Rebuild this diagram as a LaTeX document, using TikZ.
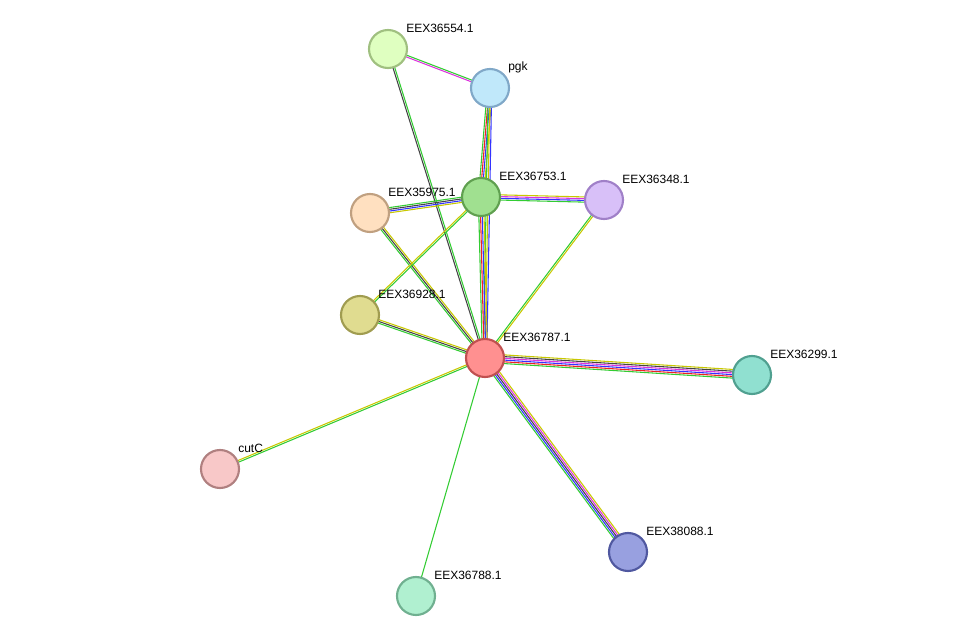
\documentclass[tikz,border=0pt]{standalone}
\usepackage{fontspec}
\setmainfont{Liberation Sans}
\usetikzlibrary{calc}
\definecolor{eg}{HTML}{33CC33}
\definecolor{ey}{HTML}{C8C800}
\definecolor{eb}{HTML}{3333FF}
\definecolor{em}{HTML}{DD33DD}
\definecolor{ek}{HTML}{444444}
\definecolor{er}{HTML}{EE2222}
\tikzset{prot/.style={circle,minimum size=28.5pt,inner sep=0pt,line width=1.6pt},
lab/.style={anchor=west,font=\fontsize{9}{10}\selectfont,inner sep=0pt}}
\newcommand\sedge[4]{%
\foreach \cc [count=\i] in {#4} {%
\pgfmathsetmacro\oo{(\i-(#3+1)/2)*1.3}%
\draw[\cc,line width=0.8pt] ($(#1)!\oo pt!90:(#2)$) -- ($(#2)!\oo pt!-90:(#1)$);}}
\begin{document}
\begin{tikzpicture}[x=0.75pt,y=-0.75pt]
\useasboundingbox (0,0) rectangle (976,642);
\coordinate (a) at (388,49);
\coordinate (p) at (490,88);
\coordinate (g) at (481,197);
\coordinate (l) at (604,200);
\coordinate (q) at (370,213);
\coordinate (k) at (360,315);
\coordinate (r) at (485,358);
\coordinate (t) at (752,375);
\coordinate (c) at (220,469);
\coordinate (b) at (628,552);
\coordinate (m) at (416,596);
\sedge{a}{p}{2}{em,eg}
\sedge{a}{r}{2}{ek,eg}
\sedge{p}{g}{4}{eg,er,eb,ey}
\sedge{p}{r}{3}{eg,ey,eb}
\sedge{g}{r}{4}{eg,er,eb,ey}
\sedge{g}{l}{4}{eg,eb,em,ey}
\sedge{q}{g}{4}{ey,eb,ek,eg}
\sedge{q}{r}{3}{eg,ek,ey}
\sedge{k}{g}{2}{eg,ey}
\sedge{k}{r}{3}{eg,ek,ey}
\sedge{l}{r}{2}{eg,ey}
\sedge{r}{t}{6}{eg,er,eb,em,ek,ey}
\sedge{r}{b}{5}{eg,eb,ek,em,ey}
\sedge{r}{c}{2}{ey,eg}
\sedge{r}{m}{1}{eg}
\node[prot,fill={rgb,255:red,223;green,255;blue,192},draw={rgb,255:red,160;green,192;blue,128}] (na) at (a) {};
\node[prot,fill={rgb,255:red,192;green,232;blue,250},draw={rgb,255:red,128;green,168;blue,200}] (np) at (p) {};
\node[prot,fill={rgb,255:red,160;green,224;blue,144},draw={rgb,255:red,96;green,160;blue,80}] (ng) at (g) {};
\node[prot,fill={rgb,255:red,216;green,192;blue,248},draw={rgb,255:red,160;green,128;blue,200}] (nl) at (l) {};
\node[prot,fill={rgb,255:red,255;green,224;blue,192},draw={rgb,255:red,192;green,160;blue,128}] (nq) at (q) {};
\node[prot,fill={rgb,255:red,224;green,220;blue,144},draw={rgb,255:red,160;green,156;blue,80}] (nk) at (k) {};
\node[prot,fill={rgb,255:red,255;green,144;blue,144},draw={rgb,255:red,192;green,80;blue,80}] (nr) at (r) {};
\node[prot,fill={rgb,255:red,144;green,224;blue,208},draw={rgb,255:red,80;green,160;blue,144}] (nt) at (t) {};
\node[prot,fill={rgb,255:red,248;green,200;blue,200},draw={rgb,255:red,176;green,128;blue,128}] (nc) at (c) {};
\node[prot,fill={rgb,255:red,152;green,160;blue,224},draw={rgb,255:red,80;green,88;blue,160}] (nb) at (b) {};
\node[prot,fill={rgb,255:red,176;green,240;blue,208},draw={rgb,255:red,112;green,176;blue,144}] (nm) at (m) {};
\node[lab] at ($(a)+(18,-21)$) {EEX36554.1};
\node[lab] at ($(p)+(18,-21)$) {pgk};
\node[lab] at ($(g)+(18,-21)$) {EEX36753.1};
\node[lab] at ($(l)+(18,-21)$) {EEX36348.1};
\node[lab] at ($(q)+(18,-21)$) {EEX35975.1};
\node[lab] at ($(k)+(18,-21)$) {EEX36928.1};
\node[lab] at ($(r)+(18,-21)$) {EEX36787.1};
\node[lab] at ($(t)+(18,-21)$) {EEX36299.1};
\node[lab] at ($(c)+(18,-21)$) {cutC};
\node[lab] at ($(b)+(18,-21)$) {EEX38088.1};
\node[lab] at ($(m)+(18,-21)$) {EEX36788.1};
\end{tikzpicture}
\end{document}
